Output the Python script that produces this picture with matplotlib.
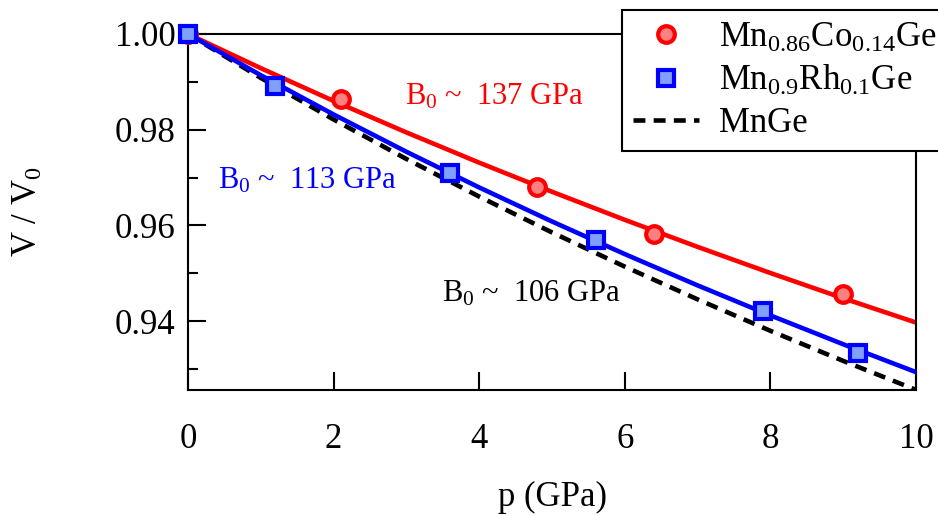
import matplotlib
matplotlib.use("Agg")
import matplotlib.pyplot as plt
from matplotlib.ticker import MultipleLocator

plt.rcParams['font.family'] = ['Liberation Serif', 'DejaVu Serif']
plt.rcParams['mathtext.fontset'] = 'custom'
plt.rcParams['mathtext.rm'] = 'Liberation Serif'
plt.rcParams['mathtext.it'] = 'Liberation Serif:italic'

# measured points
p_co = [0.0, 2.1, 4.8, 6.4, 9.0]
v_co = [1.0, 0.9864, 0.9680, 0.9582, 0.9456]
p_rh = [0.0, 1.2, 3.6, 5.6, 7.9, 9.2]
v_rh = [1.0, 0.9891, 0.9710, 0.9570, 0.9421, 0.9333]

# fitted EOS curves at integer pressures
p_fit = [0, 1, 2, 3, 4, 5, 6, 7, 8, 9, 10]
fit_co = [1.0, 0.99286, 0.98601, 0.97943, 0.97311, 0.96703, 0.96116, 0.95551, 0.95005, 0.94477, 0.93970]
fit_rh = [1.0, 0.99138, 0.98318, 0.97539, 0.96793, 0.96082, 0.95400, 0.94746, 0.94119, 0.93516, 0.92934]
fit_mnge = [1.0, 0.99082, 0.98213, 0.97388, 0.96602, 0.95853, 0.95138, 0.94454, 0.93797, 0.93168, 0.92563]

RED = '#ff0000'
BLUE = '#0000ff'

fig = plt.figure(figsize=(9.38, 5.16), dpi=100)
ax = fig.add_axes([188/938, 1 - 390/516, (916-188)/938, (390-34)/516])

ax.plot(p_fit, fit_co, color=RED, lw=3.3, zorder=2)
ax.plot(p_fit, fit_mnge, color='black', lw=3.3, ls=(0, (2.6, 1.8)), zorder=3, label='MnGe')
ax.plot(p_fit, fit_rh, color=BLUE, lw=3.3, zorder=4)

ax.plot(p_co, v_co, 'o', ms=12, mfc='#ff8080', mec=RED, mew=3, clip_on=False, zorder=5,
        label=r'Mn$_{0.86}$Co$_{0.14}$Ge')
ax.plot(p_rh, v_rh, 's', ms=11.5, mfc='#80a0ff', mec=BLUE, mew=3, clip_on=False, zorder=6,
        label=r'Mn$_{0.9}$Rh$_{0.1}$Ge')

ax.set_xlim(0, 10)
ax.set_ylim(0.9256, 1.0)
ax.xaxis.set_major_locator(MultipleLocator(2))
ax.yaxis.set_minor_locator(MultipleLocator(0.01))
ax.set_yticks([0.94, 0.96, 0.98, 1.00])
ax.set_yticklabels(['0.94', '0.96', '0.98', '1.00'])

ax.tick_params(which='both', direction='in', width=1.5, labelsize=25)
ax.tick_params(which='major', length=13)
ax.tick_params(which='minor', length=7)
ax.tick_params(axis='x', pad=24)
ax.tick_params(axis='y', pad=9)
for s in ax.spines.values():
    s.set_linewidth(1.5)

ax.set_xlabel('p (GPa)', fontsize=25)
ax.set_ylabel('V / V$_0$', fontsize=25)
ax.xaxis.set_label_coords(0.5, -0.255)
ax.yaxis.set_label_coords(-0.197, 0.5)

ax.text(2.98, 0.9868, 'B$_0$ ~  137 GPa', color=RED, fontsize=22, va='center')
ax.text(0.41, 0.9693, 'B$_0$ ~  113 GPa', color=BLUE, fontsize=22, va='center')
ax.text(3.49, 0.9457, 'B$_0$ ~  106 GPa', color='black', fontsize=22, va='center')

h, l = ax.get_legend_handles_labels()
order = [1, 2, 0]
leg = ax.legend([h[i] for i in order], [l[i] for i in order], loc='upper left',
                bbox_to_anchor=(622/938, 1 - 10/516), bbox_transform=fig.transFigure,
                fontsize=25, frameon=True, fancybox=False, framealpha=1,
                handlelength=1.9, handletextpad=0.55, labelspacing=0.26,
                borderpad=0.33, borderaxespad=0)
leg.get_frame().set_edgecolor('black')
leg.get_frame().set_linewidth(1.5)
leg.set_zorder(10)

fig.savefig('out.png', dpi=100)
